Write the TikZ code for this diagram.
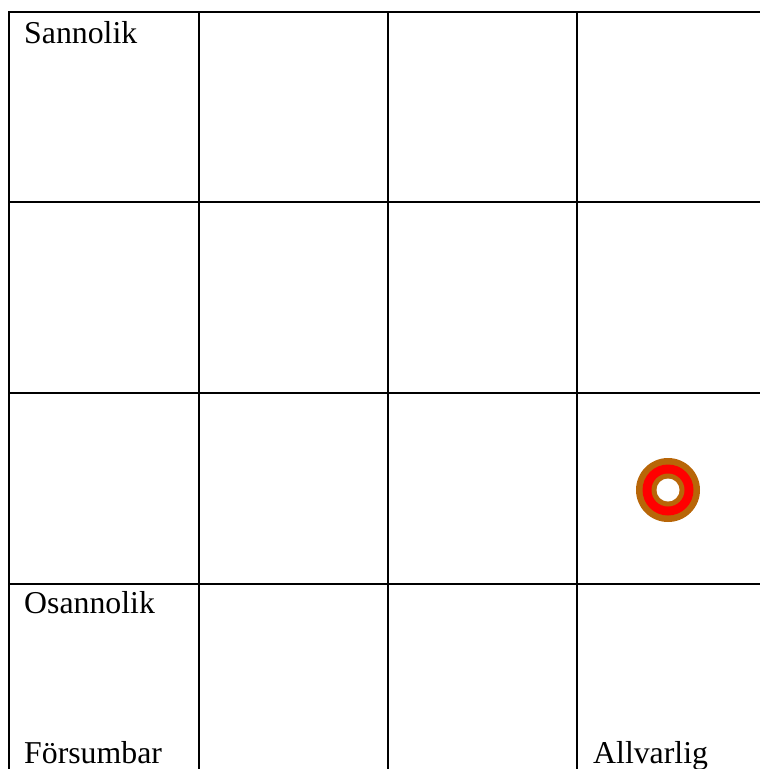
\documentclass[tikz,border=0pt]{standalone}
\usepackage{fontspec}
\setmainfont{Liberation Serif}
\definecolor{ringbrown}{RGB}{184,102,8}
\begin{document}
\begin{tikzpicture}[x=1pt, y=-1pt,
  gridline/.style={line width=2.8pt, black, line cap=rect},
  lbl/.style={anchor=base west, inner sep=0pt,
              font=\fontsize{31.8}{38}\selectfont},
  disc/.style={circle, inner sep=0pt, draw=none},
]
  \useasboundingbox (0,0) rectangle (760,769);

  % Grid lines (open on the right and at the bottom)
  \foreach \y in {12, 202, 393, 584} {
    \draw[gridline] (9,\y) -- (765,\y);
  }
  \foreach \x in {9, 199, 388, 577} {
    \draw[gridline] (\x,12) -- (\x,775);
  }

  % Axis labels
  \node[lbl] at (24,43)  (likely)   {Sannolik};
  \node[lbl] at (24,613) (unlikely) {Osannolik};
  \node[lbl] at (24,763) (minor)    {Försumbar};
  \node[lbl] at (593,763) (severe)  {Allvarlig};

  % Risk marker
  \node[disc, fill=ringbrown, minimum size=64] at (668,490) (ring) {};
  \node[disc, fill=red, minimum size=51] at (ring.center) (ringred) {};
  \node[disc, fill=ringbrown, minimum size=33] at (ring.center) (ringin) {};
  \node[disc, fill=white, minimum size=23] at (ring.center) (hole) {};
\end{tikzpicture}
\end{document}
